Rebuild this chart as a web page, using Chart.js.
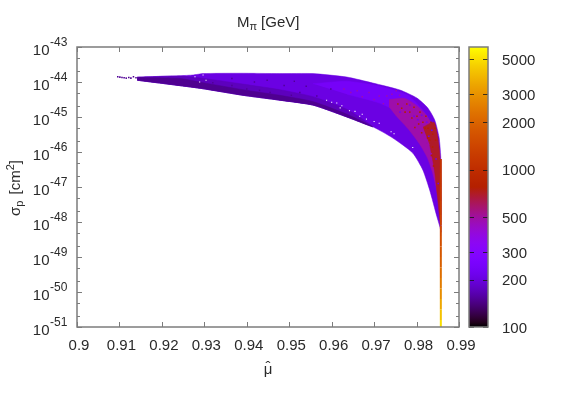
<!DOCTYPE html>
<html>
<head>
<meta charset="utf-8">
<style>
  html, body { margin: 0; padding: 0; background: #fff; }
  #wrap { position: relative; width: 563px; height: 394px; overflow: hidden; }
  #main { position: absolute; left: 0; top: 0; }
  #bar { position: absolute; left: 460px; top: 0; }
</style>
</head>
<body>
<div id="wrap">
  <canvas id="main" width="563" height="394"></canvas>
  <canvas id="bar" width="103" height="394"></canvas>
</div>
<script src="https://cdn.jsdelivr.net/npm/chart.js@4/dist/chart.umd.min.js"></script>
<script>
// axis ticks
var muTicks = [0.9, 0.91, 0.92, 0.93, 0.94, 0.95, 0.96, 0.97, 0.98, 0.99];
var muLabels = ['0.9', '0.91', '0.92', '0.93', '0.94', '0.95', '0.96', '0.97', '0.98', '0.99'];
var decades = [-43, -44, -45, -46, -47, -48, -49, -50, -51];
var minorSteps = [2, 5];
var massTicks = [100, 200, 300, 500, 1000, 2000, 3000, 5000];

// outline of the whole point cloud, [mu, log10 sigma]
var cloudOutline = [
  [0.9142, -43.86], [0.9243, -43.82], [0.9274, -43.8], [0.9297, -43.76], [0.9384, -43.75],
  [0.9478, -43.76], [0.9556, -43.76], [0.9636, -43.86], [0.9697, -44.03], [0.9761, -44.23],
  [0.9801, -44.46], [0.9827, -44.75], [0.9843, -45.09], [0.9853, -45.58], [0.9857, -46.14],
  [0.9858, -47.28], [0.9858, -48.29], [0.9855, -48.14], [0.9848, -47.85], [0.9831, -47.09],
  [0.9815, -46.52], [0.9791, -46.03], [0.9744, -45.6], [0.9697, -45.28], [0.9636, -45.0],
  [0.9556, -44.66], [0.9478, -44.52], [0.9391, -44.38], [0.929, -44.18], [0.9142, -43.95]
];
// darker, lighter-mass strips of the cloud
var leftStrip = [
  [0.9142, -43.86], [0.9243, -43.83], [0.93, -43.9], [0.9391, -44.06], [0.9478, -44.22],
  [0.9556, -44.42], [0.9636, -44.78], [0.9697, -45.28], [0.9636, -45.0], [0.9556, -44.66],
  [0.9478, -44.52], [0.9391, -44.38], [0.929, -44.18], [0.9142, -43.95]
];
var lowStrip = [
  [0.9142, -43.87], [0.9243, -43.9], [0.9297, -44.02], [0.9391, -44.22], [0.9478, -44.38],
  [0.9556, -44.56], [0.9636, -44.92], [0.9697, -45.28], [0.9636, -45.0], [0.9556, -44.66],
  [0.9478, -44.52], [0.9391, -44.38], [0.929, -44.18], [0.9142, -43.95]
];
var magentaPatch = [
  [0.9556, -44.05], [0.9636, -43.98], [0.9712, -44.12], [0.9777, -44.36], [0.98, -44.6],
  [0.9825, -44.98], [0.9838, -45.5], [0.9815, -45.3], [0.978, -45.0], [0.9712, -44.6],
  [0.9636, -44.35]
];
var redPatch = [
  [0.9735, -44.5], [0.9773, -44.47], [0.9801, -44.68], [0.9823, -44.95], [0.984, -45.3],
  [0.9851, -45.75], [0.9856, -46.3], [0.9856, -47.4], [0.985, -47.2], [0.9838, -46.6],
  [0.9825, -46.15], [0.9806, -45.75], [0.9781, -45.35], [0.9753, -44.98], [0.9735, -44.7]
];
var redCore = [
  [0.9815, -45.29], [0.9841, -45.15], [0.985, -45.58], [0.9855, -46.14], [0.9857, -46.8],
  [0.9857, -48.0], [0.9855, -47.94], [0.985, -47.37], [0.9843, -46.6], [0.9838, -46.23],
  [0.9831, -45.8]
];
// sparse dots at the low-mu tip, and gaps in the cloud
var tipDots = [
  [0.9096, -43.85], [0.9101, -43.86], [0.9106, -43.87], [0.9111, -43.88], [0.9116, -43.89],
  [0.9122, -43.87], [0.9127, -43.89], [0.9133, -43.85], [0.9139, -43.88], [0.9147, -43.9],
  [0.9154, -43.93], [0.9162, -43.91], [0.917, -43.95]
];
var gapDots = [
  [0.9297, -43.8], [0.9278, -43.85], [0.9304, -43.95], [0.9289, -44.0], [0.9588, -44.52],
  [0.96, -44.58], [0.962, -44.74], [0.9612, -44.6], [0.9624, -44.68], [0.9642, -44.82],
  [0.9655, -44.84], [0.9672, -44.92], [0.9666, -44.98], [0.9682, -45.06], [0.97, -45.13],
  [0.9712, -45.18], [0.974, -45.42], [0.9747, -45.48], [0.9791, -45.87]
];
// scattered heavier points inside the cloud
var magentaDots = [
  [0.9629, -44.2], [0.9645, -44.3], [0.966, -44.25], [0.9672, -44.42], [0.9688, -44.3],
  [0.97, -44.5], [0.9712, -44.4], [0.9722, -44.62], [0.973, -44.4], [0.9742, -44.35],
  [0.9752, -44.25], [0.976, -44.38], [0.9738, -44.72], [0.975, -44.85], [0.9765, -45.02],
  [0.978, -45.25], [0.9795, -45.35], [0.9812, -45.62], [0.9825, -45.75], [0.9835, -46.05]
];
var redDots = [
  [0.9756, -44.63], [0.9765, -44.75], [0.9777, -44.63], [0.9784, -44.86], [0.9794, -44.72],
  [0.9801, -44.98], [0.9808, -44.86], [0.9815, -45.15], [0.9822, -44.98], [0.9827, -45.32],
  [0.9834, -45.15], [0.9838, -45.49], [0.982, -45.32], [0.9805, -45.2], [0.9789, -45.03],
  [0.9773, -44.86], [0.9843, -45.32], [0.9845, -45.66], [0.9831, -45.66], [0.9838, -45.86],
  [0.9812, -45.45], [0.9826, -45.6], [0.9835, -46.1], [0.984, -46.4], [0.9796, -45.3]
];
var violetDots = [
  [0.9761, -44.86], [0.9784, -44.66], [0.9803, -45.08], [0.9824, -45.15], [0.9812, -44.95],
  [0.9836, -45.38], [0.9794, -44.98], [0.9829, -45.55], [0.9846, -46.2], [0.9851, -46.9]
];
var darkDots = [
  [0.9215, -43.9], [0.9255, -43.95], [0.9262, -44.05], [0.932, -44.02], [0.9342, -44.15],
  [0.9365, -44.1], [0.94, -44.2], [0.943, -44.24], [0.9455, -44.3], [0.9505, -44.38],
  [0.9525, -44.3], [0.9565, -44.4], [0.9418, -44.0], [0.9488, -44.1], [0.954, -44.12],
  [0.9598, -44.2], [0.9365, -43.9], [0.9448, -43.95], [0.9512, -43.98]
];
// thin tail on the right edge, colour follows the mass
var tailLog = [-46.2, -46.6, -47, -47.4, -47.8, -48.1, -48.4, -48.7, -49, -49.3, -49.6, -49.9, -50.2, -50.5, -50.8, -51];
var tailMass = [1100, 1150, 1200, 1300, 1400, 1500, 1600, 1750, 1900, 2200, 2500, 2900, 3500, 4200, 5000, 5800];
var tailMu = 0.98572;

var sans = '"Liberation Sans", Arial, sans-serif';
var ink = '#2a2a2a';
var frame = '#7c7c7c';

// gnuplot rgbformulae 7,5,15 on a log mass scale from 100 to 6000
function level(x) {
  var r = Math.sqrt(x);
  var g = x * x * x;
  var b = Math.max(0, Math.sin(2 * Math.PI * x));
  return 'rgb(' + Math.round(r * 255) + ',' + Math.round(g * 255) + ',' + Math.round(b * 255) + ')';
}
function massColor(m) {
  return level(Math.log(m / 100) / Math.log(60));
}

function points(list) {
  return list.map(function(p) {
    return { x: p[0], y: Math.pow(10, p[1]) };
  });
}

function patch(list, mass) {
  return {
    data: points(list),
    showLine: true,
    fill: 'shape',
    borderWidth: 0.5,
    borderColor: massColor(mass),
    backgroundColor: massColor(mass),
    pointRadius: 0,
    tension: 0.2
  };
}

function dots(list, color, size) {
  return {
    data: points(list),
    showLine: false,
    pointStyle: 'rect',
    pointRadius: size,
    pointBorderWidth: 0,
    pointBackgroundColor: color
  };
}

function smallText(ctx, text, x, y, size, align) {
  ctx.font = size + 'px ' + sans;
  ctx.textAlign = align || 'left';
  ctx.fillText(text, x, y);
  return ctx.measureText(text).width;
}

// inward ticks, closed frame and the labels with sub- and superscripts
var gnuFrame = {
  id: 'gnuFrame',
  afterDraw: function(chart) {
    var ctx = chart.ctx;
    var a = chart.chartArea;
    var sx = chart.scales.x;
    var sy = chart.scales.y;
    ctx.save();
    ctx.strokeStyle = frame;
    ctx.lineWidth = 1;
    ctx.beginPath();
    muTicks.forEach(function(t) {
      var px = Math.round(sx.getPixelForValue(t)) + 0.5;
      ctx.moveTo(px, a.bottom);
      ctx.lineTo(px, a.bottom - 5);
      ctx.moveTo(px, a.top);
      ctx.lineTo(px, a.top + 5);
    });
    decades.forEach(function(d) {
      var py = Math.round(sy.getPixelForValue(Math.pow(10, d))) + 0.5;
      ctx.moveTo(a.left, py);
      ctx.lineTo(a.left + 5, py);
      ctx.moveTo(a.right, py);
      ctx.lineTo(a.right - 5, py);
      if (d === -43) return;
      minorSteps.forEach(function(s) {
        var my = Math.round(sy.getPixelForValue(s * Math.pow(10, d))) + 0.5;
        ctx.moveTo(a.left, my);
        ctx.lineTo(a.left + 3, my);
        ctx.moveTo(a.right, my);
        ctx.lineTo(a.right - 3, my);
      });
    });
    ctx.stroke();
    ctx.lineWidth = 1.5;
    ctx.strokeRect(a.left, a.top, a.right - a.left, a.bottom - a.top);

    ctx.fillStyle = ink;
    ctx.textBaseline = 'middle';
    decades.forEach(function(d) {
      var py = sy.getPixelForValue(Math.pow(10, d));
      smallText(ctx, '10', 49.5, py + 3.5, 15, 'right');
      smallText(ctx, String(d), 50, py - 4, 12);
    });

    // title
    var tx = 237;
    tx += smallText(ctx, 'M', tx, 23, 15);
    tx += smallText(ctx, '\u03c0', tx, 27, 11) + 1;
    smallText(ctx, '[GeV]', tx + 3, 23, 15);

    // axis titles
    smallText(ctx, '\u03bc', 268, 370, 15, 'center');
    smallText(ctx, '\u02c6', 268, 368, 15, 'center');
    ctx.save();
    ctx.translate(16, 216);
    ctx.rotate(-Math.PI / 2);
    var w = smallText(ctx, '\u03c3', 0, 0, 15);
    w += smallText(ctx, 'p', w, 4, 11) + 2;
    w += smallText(ctx, ' [cm', w, 0, 15);
    w += smallText(ctx, '2', w, -5, 11);
    smallText(ctx, ']', w, 0, 15);
    ctx.restore();
    ctx.restore();
  }
};

new Chart(document.getElementById('main'), {
  type: 'scatter',
  data: {
    datasets: [
      { // tail, on top of everything
        data: tailLog.map(function(v) { return { x: tailMu, y: Math.pow(10, v) }; }),
        showLine: true,
        borderWidth: 2,
        pointRadius: 0,
        segment: {
          borderColor: function(c) { return massColor(tailMass[c.p0DataIndex]); }
        }
      },
      dots(gapDots, '#ffffff', 0.8),
      dots(tipDots, massColor(150), 1.1),
      dots(violetDots, massColor(220), 1.1),
      dots(redDots, massColor(780), 1.1),
      dots(magentaDots, massColor(480), 1),
      dots(darkDots, massColor(150), 1),
      patch(redCore, 700),
      patch(redPatch, 480),
      patch(magentaPatch, 240),
      patch(lowStrip, 148),
      patch(leftStrip, 172),
      patch(cloudOutline, 205)
    ]
  },
  plugins: [gnuFrame],
  options: {
    responsive: false,
    animation: false,
    events: [],
    layout: { padding: { top: 47, right: 104, left: 0, bottom: 0 } },
    plugins: { legend: { display: false }, tooltip: { enabled: false } },
    scales: {
      x: {
        type: 'linear',
        min: 0.9,
        max: 0.99,
        grid: { display: false, drawTicks: false },
        border: { display: false },
        afterBuildTicks: function(s) {
          s.ticks = muTicks.map(function(v) { return { value: v }; });
        },
        afterFit: function(s) { s.height = 67; },
        ticks: {
          autoSkip: false,
          maxRotation: 0,
          padding: 10,
          labelOffset: 2,
          color: ink,
          font: { family: sans, size: 15 },
          callback: function(v, i) { return muLabels[i]; }
        }
      },
      y: {
        type: 'logarithmic',
        min: 1e-51,
        max: 1e-43,
        grid: { display: false, drawTicks: false },
        border: { display: false },
        ticks: { display: false },
        afterFit: function(s) { s.width = 77; }
      }
    }
  }
});

// colour box
var barTicks = {
  id: 'barTicks',
  afterDraw: function(chart) {
    var ctx = chart.ctx;
    var a = chart.chartArea;
    ctx.save();
    ctx.strokeStyle = 'rgba(20,20,20,0.8)';
    ctx.lineWidth = 1;
    ctx.beginPath();
    massTicks.forEach(function(t) {
      var py = Math.round(chart.scales.y.getPixelForValue(t)) + 0.5;
      ctx.moveTo(a.left, py);
      ctx.lineTo(a.left + 5, py);
      ctx.moveTo(a.right, py);
      ctx.lineTo(a.right - 5, py);
    });
    ctx.stroke();
    ctx.strokeStyle = frame;
    ctx.lineWidth = 1.5;
    ctx.strokeRect(a.left, a.top, a.right - a.left, a.bottom - a.top);
    ctx.restore();
  }
};

function barFill(c) {
  var a = c.chart.chartArea;
  if (!a) return '#000';
  var g = c.chart.ctx.createLinearGradient(0, a.bottom, 0, a.top);
  for (var i = 0; i <= 60; i++) g.addColorStop(i / 60, level(i / 60));
  return g;
}

new Chart(document.getElementById('bar'), {
  type: 'bar',
  data: {
    labels: ['M'],
    datasets: [{
      data: [[100, 6000]],
      barPercentage: 1,
      categoryPercentage: 1,
      backgroundColor: barFill
    }]
  },
  plugins: [barTicks],
  options: {
    responsive: false,
    animation: false,
    events: [],
    layout: { padding: { top: 47, left: 9, right: 0, bottom: 67 } },
    plugins: { legend: { display: false }, tooltip: { enabled: false } },
    scales: {
      x: { display: false },
      y: {
        type: 'logarithmic',
        position: 'right',
        min: 100,
        max: 6000,
        grid: { display: false, drawTicks: false },
        border: { display: false },
        afterBuildTicks: function(s) {
          s.ticks = massTicks.map(function(v) { return { value: v }; });
        },
        afterFit: function(s) { s.width = 75; },
        ticks: {
          autoSkip: false,
          padding: 14,
          labelOffset: 1.5,
          color: ink,
          font: { family: sans, size: 15 },
          callback: function(v) { return String(v); }
        }
      }
    }
  }
});
</script>
</body>
</html>
